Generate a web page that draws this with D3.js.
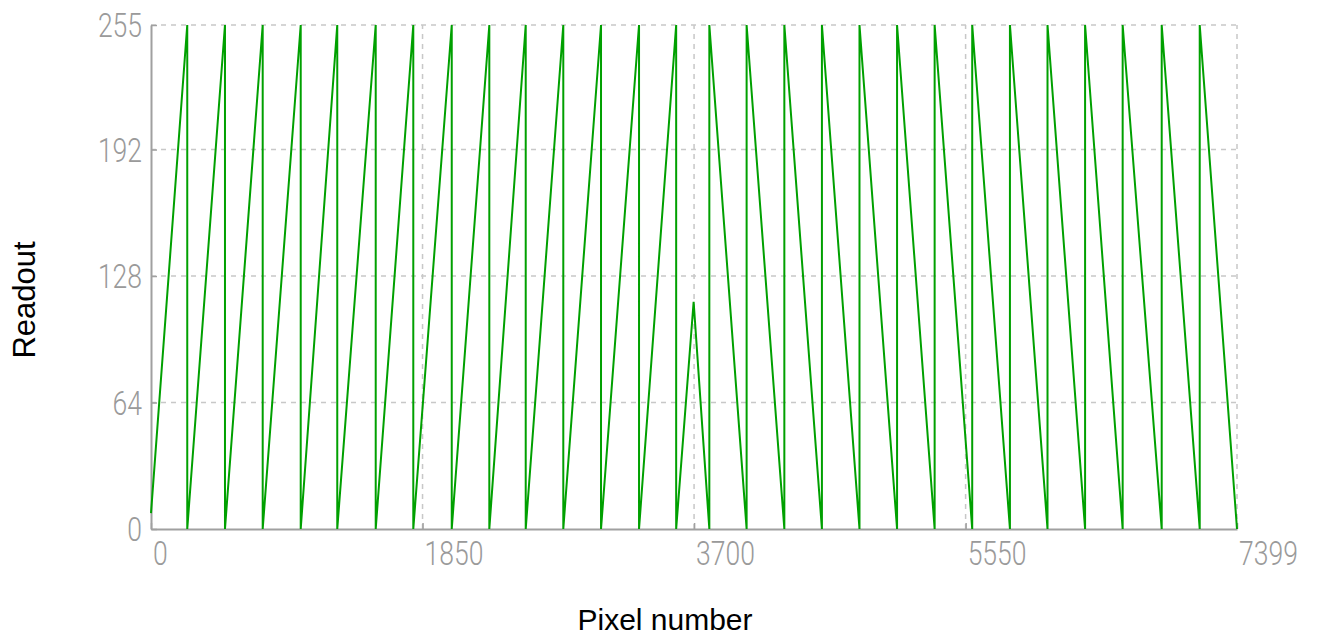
<!DOCTYPE html>
<html>
<head>
<meta charset="utf-8">
<script src="https://cdn.jsdelivr.net/npm/d3@7/dist/d3.min.js"></script>
<style>
  body { margin: 0; background: #fff; }
  svg { display: block; }
</style>
</head>
<body>
<svg id="chart"></svg>
<script>
// sawtooth readout: vertices (pixel number, readout value)
const pixel = [
  0,
  247, 247, 504, 504, 761, 761, 1020, 1020, 1269, 1269, 1531, 1531,
  1787, 1787, 2049, 2049, 2305, 2305, 2553, 2553, 2809, 2809,
  3066, 3066, 3325, 3325, 3578, 3578,
  3697,
  3804, 3804, 4058, 4058, 4315, 4315, 4571, 4571, 4827, 4827,
  5083, 5083, 5339, 5339, 5595, 5595, 5852, 5852, 6108, 6108,
  6364, 6364, 6620, 6620, 6886, 6886, 7145, 7145,
  7399
]
const readout = [
  8,
  255, 0, 255, 0, 255, 0, 255, 0, 255, 0, 255, 0,
  255, 0, 255, 0, 255, 0, 255, 0, 255, 0,
  255, 0, 255, 0, 255, 0,
  115,
  0, 255, 0, 255, 0, 255, 0, 255, 0, 255,
  0, 255, 0, 255, 0, 255, 0, 255, 0, 255,
  0, 255, 0, 255, 0, 255, 0, 255,
  0
]

const xTicks = [0, 1850, 3700, 5550, 7399]
const yTicks = [0, 64, 128, 192, 255]

let width = 1317,
height = 641
let margin = {top: 25, right: 80, bottom: 112, left: 151}

let svg = d3.select('#chart')
.attr('width', width)
.attr('height', height)

let x = d3.scaleLinear().domain([0, 7399]).range([margin.left, width - margin.right])
let y = d3.scaleLinear().domain([0, 255]).range([height - margin.bottom, margin.top])

let points = pixel.map((p, i) => [p, readout[i]])

// dashed grid
svg.append('g')
.selectAll('line')
.data(yTicks.filter(d => d > 0))
.enter().append('line')
.attr('x1', x(0)).attr('x2', x(7399))
.attr('y1', d => y(d)).attr('y2', d => y(d))
.attr('stroke', '#c8c8c8')
.attr('stroke-width', 1.5)
.attr('stroke-dasharray', '5,5')

svg.append('g')
.selectAll('line')
.data(xTicks.filter(d => d > 0))
.enter().append('line')
.attr('x1', d => x(d)).attr('x2', d => x(d))
.attr('y1', y(0)).attr('y2', y(255))
.attr('stroke', '#c8c8c8')
.attr('stroke-width', 1.5)
.attr('stroke-dasharray', '5,5')

// axes, inner ticks
let xAxis = svg.append('g')
.attr('transform', `translate(0,${y(0)})`)
.call(d3.axisBottom(x).tickValues(xTicks).tickSizeInner(-6).tickSizeOuter(0).tickFormat(d3.format('d')))

let yAxis = svg.append('g')
.attr('transform', `translate(${x(0)},0)`)
.call(d3.axisLeft(y).tickValues(yTicks).tickSizeInner(-6).tickSizeOuter(0))

for (let ax of [xAxis, yAxis]) {
    ax.select('.domain').attr('stroke', '#a0a0a0').attr('stroke-width', 2)
    ax.selectAll('.tick line').attr('stroke', '#a0a0a0').attr('stroke-width', 1.5)
    ax.selectAll('.tick text')
    .attr('fill', '#9a9a9a')
    .style('font-family', 'Roboto, "Liberation Sans", sans-serif')
    .style('font-weight', 300)
    .style('font-size', '34px')
}

xAxis.selectAll('.tick text')
.attr('text-anchor', 'start')
.attr('x', 2)
.attr('y', 36)
.attr('dy', null)
.attr('transform', 'scale(0.78,1)')

yAxis.selectAll('.tick text')
.attr('text-anchor', 'end')
.attr('x', -9 / 0.78)
.attr('dy', '0.35em')
.attr('transform', 'scale(0.78,1)')

// the readout trace
let line = d3.line()
.x(d => x(d[0]))
.y(d => y(d[1]))

svg.append('path')
.datum(points)
.attr('fill', 'none')
.attr('stroke', '#00a000')
.attr('stroke-width', 2)
.attr('stroke-linejoin', 'miter')
.attr('d', line)

// axis titles
svg.append('text')
.attr('x', 665)
.attr('y', 630)
.attr('text-anchor', 'middle')
.style('font-family', '"Liberation Sans", Arial, sans-serif')
.style('font-size', '30px')
.text('Pixel number')

svg.append('text')
.attr('transform', 'translate(35,300) rotate(-90)')
.attr('text-anchor', 'middle')
.style('font-family', '"Liberation Sans", Arial, sans-serif')
.style('font-size', '31px')
.text('Readout')
</script>
</body>
</html>
